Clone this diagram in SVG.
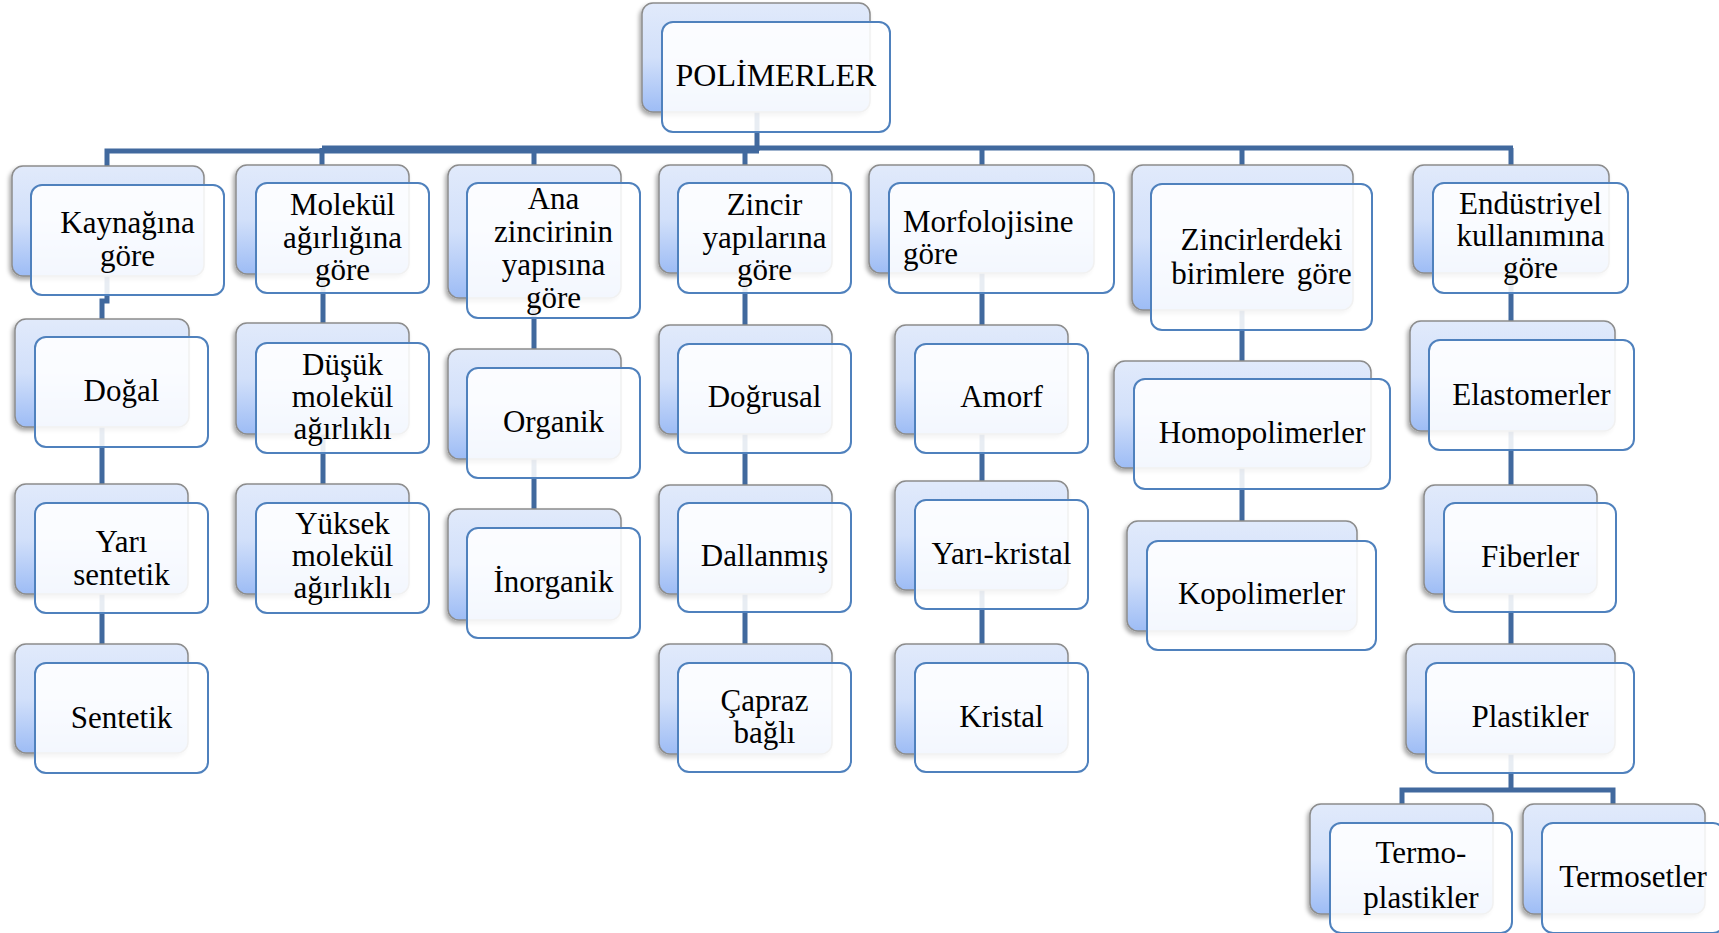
<svg xmlns="http://www.w3.org/2000/svg" width="1719" height="933" viewBox="0 0 1719 933">
<defs>
<linearGradient id="g" x1="0" y1="0" x2="0" y2="1">
<stop offset="0" stop-color="#e1eafb"/>
<stop offset="0.5" stop-color="#d2e0fa"/>
<stop offset="1" stop-color="#9dbcf5"/>
</linearGradient>
<filter id="sh" x="-10%" y="-10%" width="120%" height="130%">
<feDropShadow dx="-2" dy="3" stdDeviation="2" flood-color="#000" flood-opacity="0.35"/>
</filter>
</defs>
<style>
.back{fill:url(#g);stroke:#8c8c8c;stroke-width:1.5;filter:url(#sh)}
.front{fill:#ffffff;fill-opacity:0.88;stroke:#4f81bd;stroke-width:2}
text{font-family:"Liberation Serif","Times New Roman",serif;font-size:31px;fill:#000;text-anchor:middle}
.conn{fill:none;stroke:#41699e;stroke-width:5;stroke-linejoin:miter}
</style>
<g id="connectors">
<path class="conn" d="M757,112 V151"/>
<path class="conn" d="M759,151 H107 V166"/>
<path class="conn" d="M322,148 H1513"/>
<path class="conn" d="M322,148 V165 M534,148 V165 M745,148 V165 M982,148 V165 M1242,148 V165 M1511,148 V165"/>
<path class="conn" d="M107,276 V301 H102 V319 M102,427 V484 M102,594 V644"/>
<path class="conn" d="M323,274 V323 M323,434 V484"/>
<path class="conn" d="M534,298 V349 M534,459 V509"/>
<path class="conn" d="M745,273 V325 M745,434 V485 M745,594 V644"/>
<path class="conn" d="M982,273 V325 M982,434 V481 M982,590 V644"/>
<path class="conn" d="M1242,310 V361 M1242,468 V521"/>
<path class="conn" d="M1511,273 V321 M1511,431 V485 M1511,594 V644 M1511,754 V790"/>
<path class="conn" d="M1402,805 V790 H1613 V805"/>
</g>
<g id="n0"><rect class="back" x="642" y="3" width="228" height="109" rx="11"/><rect class="front" x="662" y="22" width="228" height="110" rx="11"/><text x="776" y="86" style="font-size:32px">POLİMERLER</text></g>
<g id="n1"><rect class="back" x="12" y="166" width="192" height="110" rx="11"/><rect class="front" x="31" y="185" width="193" height="110" rx="11"/><text x="127.5" y="233">Kaynağına</text><text x="127.5" y="266">göre</text></g>
<g id="n2"><rect class="back" x="15" y="319" width="174" height="108" rx="11"/><rect class="front" x="35" y="337" width="173" height="110" rx="11"/><text x="121.5" y="401">Doğal</text></g>
<g id="n3"><rect class="back" x="15" y="484" width="173" height="110" rx="11"/><rect class="front" x="35" y="503" width="173" height="110" rx="11"/><text x="121.5" y="552">Yarı</text><text x="121.5" y="585">sentetik</text></g>
<g id="n4"><rect class="back" x="15" y="644" width="173" height="109" rx="11"/><rect class="front" x="35" y="663" width="173" height="110" rx="11"/><text x="121.5" y="728">Sentetik</text></g>
<g id="n5"><rect class="back" x="236" y="165" width="173" height="109" rx="11"/><rect class="front" x="256" y="183" width="173" height="110" rx="11"/><text x="342.5" y="215">Molekül</text><text x="342.5" y="248">ağırlığına</text><text x="342.5" y="280">göre</text></g>
<g id="n6"><rect class="back" x="236" y="323" width="173" height="111" rx="11"/><rect class="front" x="256" y="343" width="173" height="110" rx="11"/><text x="342.5" y="375">Düşük</text><text x="342.5" y="407">molekül</text><text x="342.5" y="439">ağırlıklı</text></g>
<g id="n7"><rect class="back" x="236" y="484" width="173" height="110" rx="11"/><rect class="front" x="256" y="503" width="173" height="110" rx="11"/><text x="342.5" y="534">Yüksek</text><text x="342.5" y="566">molekül</text><text x="342.5" y="598">ağırlıklı</text></g>
<g id="n8"><rect class="back" x="448" y="165" width="173" height="133" rx="11"/><rect class="front" x="467" y="183" width="173" height="135" rx="11"/><text x="553.5" y="209">Ana</text><text x="553.5" y="242">zincirinin</text><text x="553.5" y="275">yapısına</text><text x="553.5" y="308">göre</text></g>
<g id="n9"><rect class="back" x="448" y="349" width="173" height="110" rx="11"/><rect class="front" x="467" y="368" width="173" height="110" rx="11"/><text x="553.5" y="432">Organik</text></g>
<g id="n10"><rect class="back" x="448" y="509" width="173" height="111" rx="11"/><rect class="front" x="467" y="528" width="173" height="110" rx="11"/><text x="553.5" y="592">İnorganik</text></g>
<g id="n11"><rect class="back" x="659" y="165" width="173" height="108" rx="11"/><rect class="front" x="678" y="183" width="173" height="110" rx="11"/><text x="764.5" y="215">Zincir</text><text x="764.5" y="248">yapılarına</text><text x="764.5" y="280">göre</text></g>
<g id="n12"><rect class="back" x="659" y="325" width="173" height="109" rx="11"/><rect class="front" x="678" y="344" width="173" height="109" rx="11"/><text x="764.5" y="407">Doğrusal</text></g>
<g id="n13"><rect class="back" x="659" y="485" width="173" height="109" rx="11"/><rect class="front" x="678" y="503" width="173" height="109" rx="11"/><text x="764.5" y="566">Dallanmış</text></g>
<g id="n14"><rect class="back" x="659" y="644" width="173" height="110" rx="11"/><rect class="front" x="678" y="663" width="173" height="109" rx="11"/><text x="764.5" y="711">Çapraz</text><text x="764.5" y="743">bağlı</text></g>
<g id="n15"><rect class="back" x="869" y="165" width="225" height="108" rx="11"/><rect class="front" x="889" y="183" width="225" height="110" rx="11"/><text x="903" y="232" style="text-anchor:start">Morfolojisine</text><text x="903" y="264" style="text-anchor:start">göre</text></g>
<g id="n16"><rect class="back" x="895" y="325" width="173" height="109" rx="11"/><rect class="front" x="915" y="344" width="173" height="109" rx="11"/><text x="1001.5" y="407">Amorf</text></g>
<g id="n17"><rect class="back" x="895" y="481" width="173" height="109" rx="11"/><rect class="front" x="915" y="500" width="173" height="109" rx="11"/><text x="1001.5" y="564">Yarı-kristal</text></g>
<g id="n18"><rect class="back" x="895" y="644" width="173" height="110" rx="11"/><rect class="front" x="915" y="663" width="173" height="109" rx="11"/><text x="1001.5" y="727">Kristal</text></g>
<g id="n19"><rect class="back" x="1132" y="165" width="221" height="145" rx="11"/><rect class="front" x="1151" y="184" width="221" height="146" rx="11"/><text x="1261.5" y="250">Zincirlerdeki</text><text x="1261.5" y="284" style="word-spacing:4px">birimlere göre</text></g>
<g id="n20"><rect class="back" x="1114" y="361" width="257" height="107" rx="11"/><rect class="front" x="1134" y="379" width="256" height="110" rx="11"/><text x="1262" y="443">Homopolimerler</text></g>
<g id="n21"><rect class="back" x="1127" y="521" width="230" height="110" rx="11"/><rect class="front" x="1147" y="541" width="229" height="109" rx="11"/><text x="1261.5" y="604">Kopolimerler</text></g>
<g id="n22"><rect class="back" x="1413" y="165" width="196" height="108" rx="11"/><rect class="front" x="1433" y="183" width="195" height="110" rx="11"/><text x="1530.5" y="214">Endüstriyel</text><text x="1530.5" y="246">kullanımına</text><text x="1530.5" y="278">göre</text></g>
<g id="n23"><rect class="back" x="1410" y="321" width="205" height="110" rx="11"/><rect class="front" x="1429" y="340" width="205" height="110" rx="11"/><text x="1531.5" y="405">Elastomerler</text></g>
<g id="n24"><rect class="back" x="1424" y="485" width="173" height="109" rx="11"/><rect class="front" x="1444" y="503" width="172" height="109" rx="11"/><text x="1530" y="567">Fiberler</text></g>
<g id="n25"><rect class="back" x="1406" y="644" width="209" height="110" rx="11"/><rect class="front" x="1426" y="663" width="208" height="110" rx="11"/><text x="1530" y="727">Plastikler</text></g>
<g id="n26"><rect class="back" x="1310" y="804" width="183" height="110" rx="11"/><rect class="front" x="1330" y="823" width="182" height="110" rx="11"/><text x="1421" y="863">Termo-</text><text x="1421" y="908">plastikler</text></g>
<g id="n27"><rect class="back" x="1523" y="804" width="182" height="110" rx="11"/><rect class="front" x="1542" y="823" width="182" height="110" rx="11"/><text x="1633" y="887">Termosetler</text></g>
</svg>
